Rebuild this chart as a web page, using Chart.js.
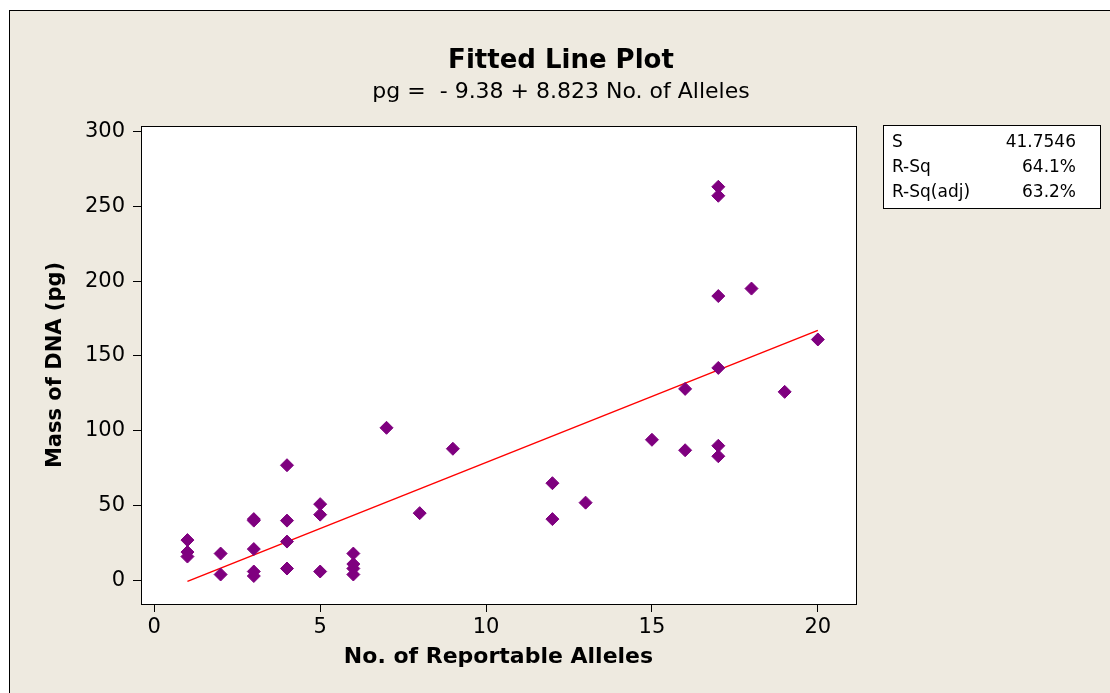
<!DOCTYPE html>
<html>
<head>
<meta charset="utf-8">
<script src="https://cdn.jsdelivr.net/npm/chart.js@4.4.3/dist/chart.umd.min.js"></script>
<style>
  html, body { margin: 0; padding: 0; background: #fff; }
  #wrap { width: 1110px; height: 693px; position: relative; }
</style>
</head>
<body>
<div id="wrap"><canvas id="fit"></canvas></div>
<script>
// number of reportable alleles vs mass of DNA (pg)
const allelesX = [1, 1, 1, 2, 2, 3, 3, 3, 3, 3, 4, 4, 4, 4, 5, 5, 5, 6, 6, 6, 6,
  7, 8, 9, 12, 12, 13, 15, 16, 16, 17, 17, 17, 17, 17, 17, 18, 19, 20];
const massY = [27, 19, 16, 18, 4, 41, 40, 21, 6, 3, 77, 40, 26, 8, 51, 44, 6, 18, 11, 8, 4,
  102, 45, 88, 65, 41, 52, 94, 128, 87, 263, 257, 190, 142, 90, 83, 195, 126, 161];

// fitted line end points (pg = -9.38 + 8.823 alleles)
const fitX = [1, 20];
const fitY = [-0.56, 167.08];

const xTicks = [0, 5, 10, 15, 20];
const yTicks = [0, 50, 100, 150, 200, 250, 300];

const statLabels = ['S', 'R-Sq', 'R-Sq(adj)'];
const statValues = ['41.7546', '64.1%', '63.2%'];

const FONT = '"DejaVu Sans", Verdana, sans-serif';

const frame = {
  id: 'frame',
  beforeDraw(chart) {
    const { ctx, chartArea: a } = chart;
    ctx.save();
    ctx.fillStyle = '#fff';
    ctx.fillRect(0, 0, chart.width, chart.height);
    ctx.fillStyle = '#EEEAE0';
    ctx.fillRect(9, 10, chart.width, chart.height);
    ctx.strokeStyle = '#000';
    ctx.lineWidth = 1;
    ctx.strokeRect(9.5, 10.5, chart.width + 10, chart.height + 10);
    ctx.fillStyle = '#fff';
    ctx.fillRect(a.left, a.top, a.right - a.left, a.bottom - a.top);
    ctx.restore();
  },
  afterDraw(chart) {
    const { ctx, chartArea: a } = chart;
    ctx.save();
    ctx.strokeStyle = '#000';
    ctx.lineWidth = 1;
    ctx.strokeRect(a.left + 0.5, a.top + 0.5, a.right - a.left, a.bottom - a.top);

    ctx.fillStyle = '#000';
    ctx.textAlign = 'center';
    ctx.textBaseline = 'alphabetic';
    ctx.font = 'bold 26px ' + FONT;
    ctx.fillText('Fitted Line Plot', 561, 68);
    ctx.font = '22px ' + FONT;
    ctx.fillText('pg =  - 9.38 + 8.823 No. of Alleles', 561, 98);

    // stats box
    ctx.fillStyle = '#fff';
    ctx.fillRect(883, 125, 217, 83);
    ctx.strokeRect(883.5, 125.5, 217, 83);
    ctx.fillStyle = '#000';
    ctx.font = '17px ' + FONT;
    statLabels.forEach((t, i) => {
      const y = 147 + i * 25;
      ctx.textAlign = 'left';
      ctx.fillText(t, 892, y);
      ctx.textAlign = 'right';
      ctx.fillText(statValues[i], 1076, y);
    });
    ctx.restore();
  }
};

const axisCommon = {
  type: 'linear',
  grid: { drawOnChartArea: false, drawTicks: true, tickLength: 8, color: '#000', lineWidth: 1 },
  border: { display: false },
};

new Chart(document.getElementById('fit'), {
  type: 'scatter',
  data: {
    datasets: [
      {
        label: 'Mass of DNA',
        data: allelesX.map((x, i) => ({ x: x, y: massY[i] })),
        pointStyle: 'rectRot',
        pointRadius: 6.5,
        backgroundColor: '#7F007F',
        borderColor: '#7F007F',
        borderWidth: 1,
        order: 1
      },
      {
        type: 'line',
        label: 'Fit',
        data: fitX.map((x, i) => ({ x: x, y: fitY[i] })),
        borderColor: '#FF0000',
        borderWidth: 1.5,
        pointRadius: 0,
        fill: false,
        order: 2
      }
    ]
  },
  options: {
    responsive: true,
    maintainAspectRatio: false,
    animation: false,
    layout: { padding: { left: 40, right: 254, top: 126, bottom: 20 } },
    plugins: {
      legend: { display: false },
      tooltip: { enabled: false }
    },
    scales: {
      x: {
        ...axisCommon,
        position: 'bottom',
        min: -0.4,
        max: 21.15,
        afterBuildTicks: s => { s.ticks = xTicks.map(v => ({ value: v })); },
        afterFit: s => { s.height = 69; },
        ticks: { color: '#000', font: { family: FONT, size: 21 }, padding: 3, maxRotation: 0 },
        title: {
          display: true,
          text: 'No. of Reportable Alleles',
          color: '#000',
          font: { family: FONT, size: 22, weight: 'bold' },
          padding: { top: 4, bottom: 3 }
        }
      },
      y: {
        ...axisCommon,
        position: 'left',
        min: -15.7,
        max: 303.6,
        afterBuildTicks: s => { s.ticks = yTicks.map(v => ({ value: v })); },
        afterFit: s => { s.width = 101; },
        ticks: { color: '#000', font: { family: FONT, size: 21 }, padding: 8 },
        title: {
          display: true,
          text: 'Mass of DNA (pg)',
          color: '#000',
          font: { family: FONT, size: 21, weight: 'bold' },
          padding: 3
        }
      }
    }
  },
  plugins: [frame]
});
</script>
</body>
</html>
